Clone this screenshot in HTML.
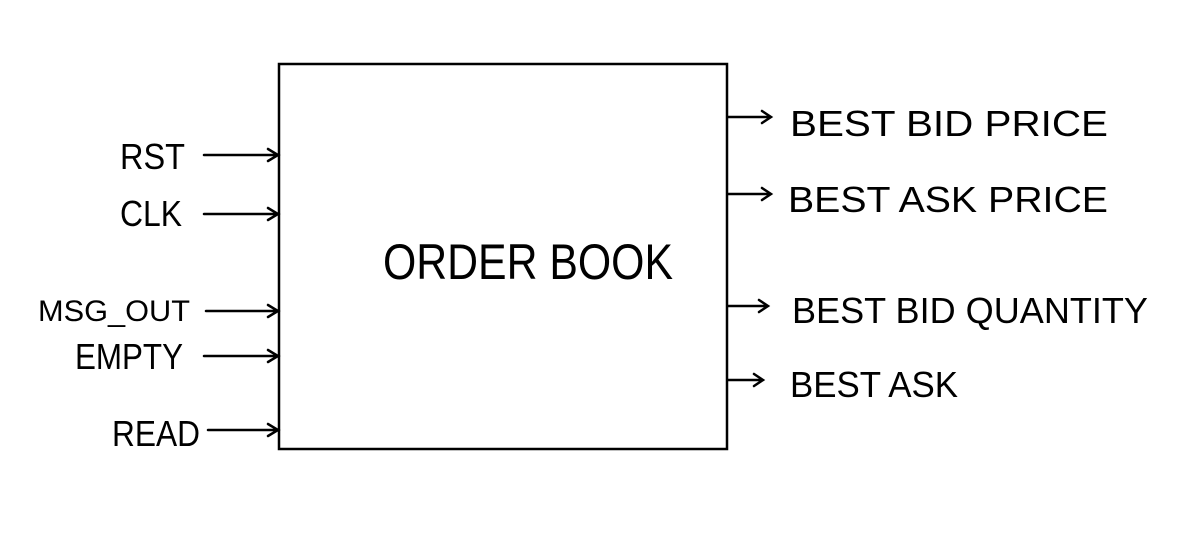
<!DOCTYPE html>
<html><head><meta charset="utf-8"><style>
html,body{margin:0;padding:0;background:#fff;}
svg{display:block;}
text{font-family:"Liberation Sans",sans-serif;fill:#000;}
</style></head><body>
<svg width="1199" height="542" viewBox="0 0 1199 542" xmlns="http://www.w3.org/2000/svg">
<rect x="279" y="64" width="448" height="385" fill="none" stroke="#000" stroke-width="2.5"/>
<g stroke="#000" stroke-width="2.5" fill="none" stroke-linecap="round">
<path d="M204 155H279M268 149l10 6-10 6"/>
<path d="M204 214H279M268 208l10 6-10 6"/>
<path d="M206 311H279M268 305l10 6-10 6"/>
<path d="M204 356H279M268 350l10 6-10 6"/>
<path d="M208 430H279M268 424l10 6-10 6"/>
<path d="M728 117H771M762 111l9 6-9 6"/>
<path d="M728 194H771M762 188l9 6-9 6"/>
<path d="M728 306H768M759 300l9 6-9 6"/>
<path d="M728 380H763M754 374l9 6-9 6"/>
</g>
<g font-size="36">
<text x="120" y="169" textLength="65" lengthAdjust="spacingAndGlyphs">RST</text>
<text x="120" y="226" textLength="62" lengthAdjust="spacingAndGlyphs">CLK</text>
<text x="38" y="321" font-size="30" textLength="152" lengthAdjust="spacingAndGlyphs">MSG_OUT</text>
<text x="75" y="369" textLength="108" lengthAdjust="spacingAndGlyphs">EMPTY</text>
<text x="112" y="446" textLength="88" lengthAdjust="spacingAndGlyphs">READ</text>
<text x="383" y="279" font-size="50" textLength="290" lengthAdjust="spacingAndGlyphs">ORDER BOOK</text>
<text x="790" y="136" textLength="318" lengthAdjust="spacingAndGlyphs">BEST BID  PRICE</text>
<text x="788" y="212" textLength="320" lengthAdjust="spacingAndGlyphs">BEST  ASK  PRICE</text>
<text x="792" y="323" textLength="356" lengthAdjust="spacingAndGlyphs">BEST BID QUANTITY</text>
<text x="790" y="397" textLength="168" lengthAdjust="spacingAndGlyphs">BEST  ASK</text>
</g>
</svg>
</body></html>
